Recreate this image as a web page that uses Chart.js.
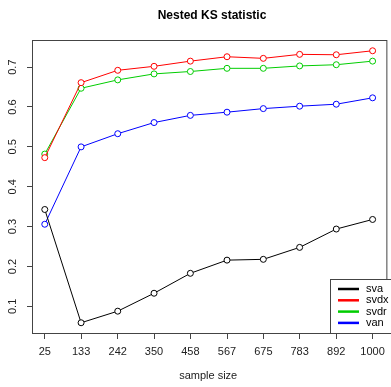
<!DOCTYPE html>
<html>
<head>
<meta charset="utf-8">
<script src="https://cdn.jsdelivr.net/npm/chart.js@4/dist/chart.umd.min.js"></script>
<style>
    html, body { margin: 0; padding: 0; background: #fff; }
    #wrap { width: 391px; height: 387px; }
</style>
</head>
<body>
<div id="wrap"><canvas id="chart" width="391" height="387"></canvas></div>
<script>
const sampleSizes = [25, 133, 242, 350, 458, 567, 675, 783, 892, 1000];
const svaValues = [0.343, 0.059, 0.088, 0.133, 0.183, 0.216, 0.218, 0.248, 0.294, 0.318];
const svdxValues = [0.473, 0.661, 0.692, 0.702, 0.715, 0.726, 0.722, 0.732, 0.731, 0.741];
const svdrValues = [0.482, 0.647, 0.668, 0.683, 0.689, 0.697, 0.697, 0.703, 0.706, 0.715];
const vanValues = [0.306, 0.500, 0.533, 0.561, 0.579, 0.587, 0.596, 0.602, 0.607, 0.623];
const yTicks = [0.1, 0.2, 0.3, 0.4, 0.5, 0.6, 0.7];
const seriesNames = ['sva', 'svdx', 'svdr', 'van'];
const seriesColors = ['#000000', '#ff0000', '#00cd00', '#0000ff'];
const chartTitle = 'Nested KS statistic';

const FONT = '"Liberation Sans", Arial, sans-serif';

function makeSeries(name, values, color) {
    return {
        label: name,
        data: sampleSizes.map((x, i) => ({ x: x, y: values[i] })),
        borderColor: color,
        backgroundColor: '#ffffff',
        borderWidth: 1,
        pointRadius: 3,
        pointBorderWidth: 1,
        pointBackgroundColor: '#ffffff',
        pointBorderColor: color,
        tension: 0
    };
}

// title over the plot region, frame, rotated y labels (R style) and the legend box
const framePlugin = {
    id: 'frame',
    afterDraw(chart) {
        const ctx = chart.ctx;
        const a = chart.chartArea;
        const yScale = chart.scales.y;
        ctx.save();

        ctx.font = 'bold 12px ' + FONT;
        ctx.fillStyle = '#000';
        ctx.textAlign = 'center';
        ctx.textBaseline = 'middle';
        ctx.fillText(chartTitle, 212, 16);

        ctx.strokeStyle = '#444';
        ctx.lineWidth = 1;
        ctx.strokeRect(a.left + 0.5, a.top + 0.5, a.right - a.left + 2, a.bottom - a.top);

        // y tick labels, reading bottom to top
        ctx.font = '11px ' + FONT;
        ctx.fillStyle = '#222';
        yTicks.forEach(v => {
            const y = yScale.getPixelForValue(v);
            ctx.save();
            ctx.translate(13, y);
            ctx.rotate(-Math.PI / 2);
            ctx.fillText(v.toFixed(1), 0, 0);
            ctx.restore();
        });

        // legend
        const lx = 330, ly = 279, lw = 70, lh = 54;
        ctx.fillStyle = '#ffffff';
        ctx.fillRect(lx, ly, lw, lh);
        ctx.strokeStyle = '#444';
        ctx.lineWidth = 1;
        ctx.strokeRect(lx + 0.5, ly + 0.5, lw, lh);
        ctx.textAlign = 'left';
        seriesNames.forEach((name, i) => {
            const y = 289 + i * 11.3;
            ctx.strokeStyle = seriesColors[i];
            ctx.lineWidth = 2.5;
            ctx.beginPath();
            ctx.moveTo(338, y);
            ctx.lineTo(359, y);
            ctx.stroke();
            ctx.fillStyle = '#000';
            ctx.fillText(name, 366, y);
        });
        ctx.restore();
    }
};

const chart = new Chart(document.getElementById('chart').getContext('2d'), {
    type: 'line',
    data: {
        datasets: [
            makeSeries('sva', svaValues, seriesColors[0]),
            makeSeries('svdx', svdxValues, seriesColors[1]),
            makeSeries('svdr', svdrValues, seriesColors[2]),
            makeSeries('van', vanValues, seriesColors[3])
        ]
    },
    options: {
        responsive: false,
        animation: false,
        clip: false,
        layout: { padding: { top: 40, left: 0, right: 0, bottom: 0 } },
        plugins: {
            legend: { display: false },
            tooltip: { enabled: false },
            title: { display: false }
        },
        scales: {
            x: {
                type: 'linear',
                min: -13,
                max: 1035,
                afterBuildTicks(scale) {
                    scale.ticks = sampleSizes.map(v => ({ value: v }));
                },
                afterFit(scale) { scale.height = 54; },
                border: { display: false },
                grid: {
                    drawOnChartArea: false,
                    drawTicks: true,
                    tickLength: 6,
                    color: '#444'
                },
                ticks: {
                    color: '#222',
                    font: { family: FONT, size: 11 },
                    padding: 6,
                    maxRotation: 0,
                    autoSkip: false,
                    callback: v => String(v)
                },
                title: {
                    display: true,
                    text: 'sample size',
                    color: '#222',
                    font: { family: FONT, size: 11 },
                    padding: { top: 12 }
                }
            },
            y: {
                min: 0.0333,
                max: 0.768,
                afterBuildTicks(scale) {
                    scale.ticks = yTicks.map(v => ({ value: v }));
                },
                afterFit(scale) { scale.width = 32; },
                border: { display: false },
                grid: {
                    drawOnChartArea: false,
                    drawTicks: true,
                    tickLength: 5,
                    color: '#444'
                },
                ticks: {
                    display: false
                }
            }
        }
    },
    plugins: [framePlugin]
});
</script>
</body>
</html>
